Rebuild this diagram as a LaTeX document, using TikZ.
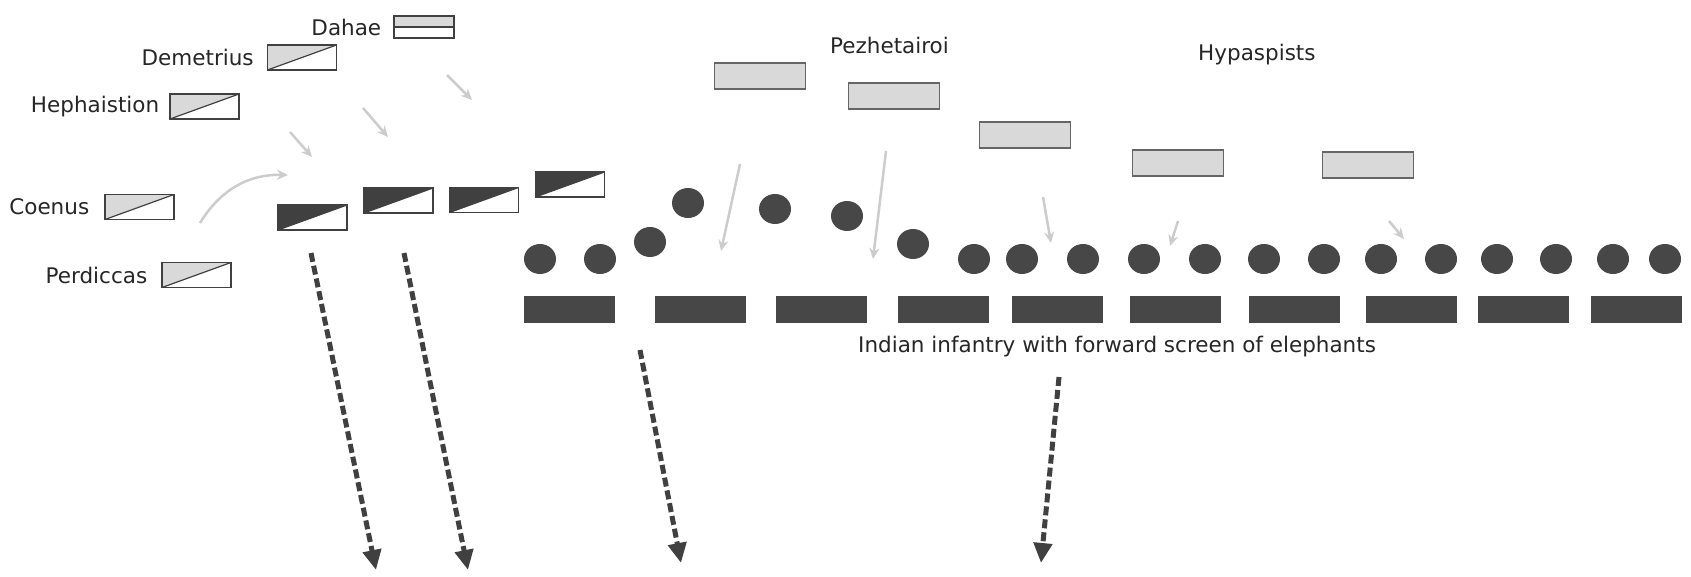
\documentclass[tikz,border=0pt]{standalone}
\usepackage{fontspec}
\setmainfont{DejaVu Sans}
\usetikzlibrary{arrows.meta,positioning,shapes.geometric}

\begin{document}
\begin{tikzpicture}[x=1pt, y=-1pt,
  every node/.style={font=\fontsize{21.5}{24}\selectfont, text=black!85},
  lab/.style={inner sep=0},
  cav/.style={draw=black!75, line width=1.2, minimum width=69, minimum height=25, inner sep=0,
    path picture={
      \fill[#1] (path picture bounding box.south west) -- (path picture bounding box.north west)
        -- (path picture bounding box.north east) -- cycle;
      \draw[black!75, line width=1.2] (path picture bounding box.south west) -- (path picture bounding box.north east);}},
  cav/.default=gray!30,
  dah/.style={draw=black!75, line width=1.2, minimum width=60, minimum height=22, inner sep=0,
    path picture={
      \fill[gray!30] (path picture bounding box.north west) rectangle (path picture bounding box.east);
      \draw[black!75, line width=1.2] (path picture bounding box.west) -- (path picture bounding box.east);}},
  phal/.style={draw=black!60, line width=1.2, fill=gray!30, minimum width=91, minimum height=26, inner sep=0},
  ele/.style={ellipse, fill=black!72, minimum width=32, minimum height=30, inner sep=0},
  inf/.style={fill=black!72, minimum width=91, minimum height=27, inner sep=0},
  mossa/.style={black!75, line width=5, dash pattern=on 9pt off 4pt, -{Triangle[length=20pt, width=18pt]}},
  luce/.style={gray!40, line width=2.5, -{Stealth[length=11pt, width=10pt]}}
]
  \useasboundingbox (0,0) rectangle (1691,577);

  % cavalleria macedone
  \node[dah] (dah) at (424,27) {};
  \node[cav] (dem) at (302,57.5) {};
  \node[cav] (heph) at (204.5,106.5) {};
  \node[cav] (coe) at (139.5,207) {};
  \node[cav] (per) at (196.5,275) {};
  \node[lab, left=12pt of dah] (tdah) {Dahae};
  \node[lab, left=13pt of dem] (tdem) {Demetrius};
  \node[lab, left=10pt of heph] (theph) {Hephaistion};
  \node[lab, left=15pt of coe] (tcoe) {Coenus};
  \node[lab, left=14pt of per] (tper) {Perdiccas};

  \node[cav=black!75] (d1) at (312.5,217.5) {};
  \node[cav=black!75] (d2) at (398.5,200.5) {};
  \node[cav=black!75] (d3) at (484,200) {};
  \node[cav=black!75] (d4) at (570,184.5) {};

  % falange e ipaspisti
  \node[lab, anchor=west] (tpez) at (830,45) {Pezhetairoi};
  \node[lab, anchor=west] (thyp) at (1198,55) {Hypaspists};
  \node[phal] (p1) at (760,76) {};
  \node[phal] (p2) at (894,96) {};
  \node[phal] (p3) at (1025,135) {};
  \node[phal] (p4) at (1178,163) {};
  \node[phal] (p5) at (1368,165) {};

  % elefanti
  \node[ele] (e1) at (540,259) {};
  \node[ele] (e2) at (600,259) {};
  \node[ele] (e3) at (650,242) {};
  \node[ele] (e4) at (688,203) {};
  \node[ele] (e5) at (775,209) {};
  \node[ele] (e6) at (847,216) {};
  \node[ele] (e7) at (913,244) {};
  \node[ele] (e8) at (974,259) {};
  \node[ele] (e9) at (1022,259) {};
  \node[ele] (e10) at (1083,259) {};
  \node[ele] (e11) at (1144,259) {};
  \node[ele] (e12) at (1205,259) {};
  \node[ele] (e13) at (1264,259) {};
  \node[ele] (e14) at (1324,259) {};
  \node[ele] (e15) at (1381,259) {};
  \node[ele] (e16) at (1441,259) {};
  \node[ele] (e17) at (1497,259) {};
  \node[ele] (e18) at (1556,259) {};
  \node[ele] (e19) at (1613,259) {};
  \node[ele] (e20) at (1665,259) {};

  % fanteria indiana
  \node[inf] (i1) at (569.5,309.5) {};
  \node[inf] (i2) at (700.5,309.5) {};
  \node[inf] (i3) at (821.5,309.5) {};
  \node[inf] (i4) at (943.5,309.5) {};
  \node[inf] (i5) at (1057.5,309.5) {};
  \node[inf] (i6) at (1175.5,309.5) {};
  \node[inf] (i7) at (1294.5,309.5) {};
  \node[inf] (i8) at (1411.5,309.5) {};
  \node[inf] (i9) at (1523.5,309.5) {};
  \node[inf] (i10) at (1636.5,309.5) {};
  \node[lab, anchor=west] (tind) at (858,347) {Indian infantry with forward screen of elephants};

  % frecce chiare
  \coordinate (l1a) at (290,132);  \coordinate (l1b) at (312,157);
  \coordinate (l2a) at (363,108);  \coordinate (l2b) at (388,137);
  \coordinate (l3a) at (447,75);   \coordinate (l3b) at (472,100);
  \coordinate (l4a) at (200,223);  \coordinate (l4b) at (288,175);
  \coordinate (l5a) at (740,164);  \coordinate (l5b) at (721,251);
  \coordinate (l6a) at (886,151);  \coordinate (l6b) at (873,259);
  \coordinate (l7a) at (1043,197); \coordinate (l7b) at (1051,243);
  \coordinate (l8a) at (1178,221); \coordinate (l8b) at (1170,246);
  \coordinate (l9a) at (1389,221); \coordinate (l9b) at (1404,239);
  \draw[luce] (l1a) -- (l1b);
  \draw[luce] (l2a) -- (l2b);
  \draw[luce] (l3a) -- (l3b);
  \draw[luce] (l4a) to[bend left=30] (l4b);
  \draw[luce] (l5a) -- (l5b);
  \draw[luce] (l6a) -- (l6b);
  \draw[luce] (l7a) -- (l7b);
  \draw[luce] (l8a) -- (l8b);
  \draw[luce] (l9a) -- (l9b);

  % frecce tratteggiate
  \coordinate (m1a) at (311,253);  \coordinate (m1b) at (376,570);
  \coordinate (m2a) at (404,253);  \coordinate (m2b) at (468,570);
  \coordinate (m3a) at (640,350);  \coordinate (m3b) at (681,563);
  \coordinate (m4a) at (1059,377); \coordinate (m4b) at (1041,563);
  \draw[mossa] (m1a) -- (m1b);
  \draw[mossa] (m2a) -- (m2b);
  \draw[mossa] (m3a) -- (m3b);
  \draw[mossa] (m4a) -- (m4b);
\end{tikzpicture}
\end{document}
